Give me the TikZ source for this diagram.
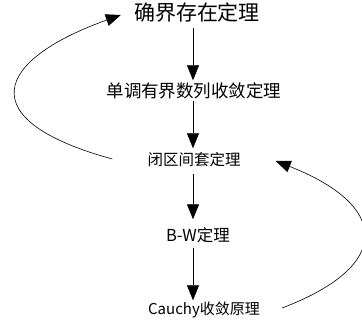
\documentclass[tikz,border=0pt]{standalone}
\usepackage{fontspec}
\setmainfont{Noto Sans CJK SC}
\usetikzlibrary{arrows.meta,calc}
\begin{document}
\begin{tikzpicture}[x=1pt,y=-1pt,
  thm/.style={inner sep=0pt, text height=0.82em, text depth=0.08em, anchor=center, font=\fontsize{#1}{#1}\selectfont},
  arr/.style={line width=0.7pt, -{Triangle[length=15pt,width=12pt]}},
  curv/.style={line width=0.6pt, -{Triangle[length=15pt,width=12pt]}}]
\useasboundingbox (0,0) rectangle (362,329);
\coordinate (col) at (193,0);
\node[thm=21] (n1) at (197,17) {确界存在定理};
\node[thm=17.5] (n2) at (194,94) {单调有界数列收敛定理};
\node[thm=15.5] (n3) at (194,162) {闭区间套定理};
\node[thm=16.5] (n4) at (198,238) {B-W定理};
\node[thm=15] (n5) at (204,311) {Cauchy收敛原理};
\draw[arr, shorten <=6pt, shorten >=9pt] (n1.south -| col) -- (n2.north -| col);
\draw[arr, shorten <=2pt, shorten >=9pt] (n2.south -| col) -- (n3.north -| col);
\draw[arr, shorten <=7pt, shorten >=14pt] (n3.south -| col) -- (n4.north -| col);
\draw[arr, shorten <=5pt, shorten >=6pt] (n4.south -| col) -- (n5.north -| col);
\draw[curv] ($(n3.west)+(-35,-3)$) .. controls (-30,120) and (-5,60) .. ($(n1.west)+(-13,-2)$);
\draw[curv] ($(n5.east)+(22,-3)$) .. controls (395,265) and (388,205) .. ($(n3.east)+(35,-1)$);
\end{tikzpicture}
\end{document}
